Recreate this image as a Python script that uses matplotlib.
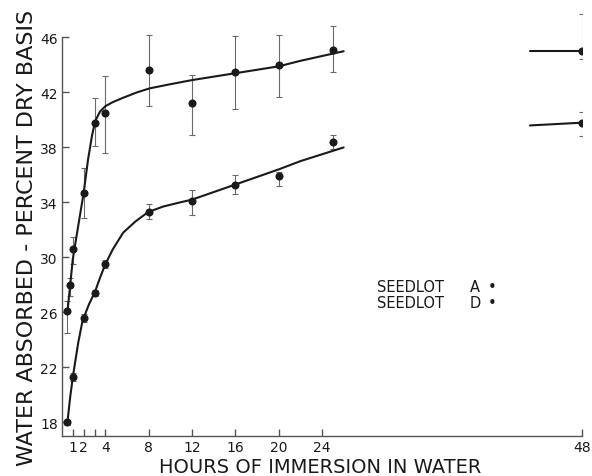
import matplotlib
matplotlib.use("Agg")
import matplotlib.pyplot as plt
import numpy as np

# ---- data ----
hours_a = [0.5, 0.75, 1, 2, 3, 4, 8, 12, 16, 20, 25, 48]
water_a = [26.1, 28.0, 30.6, 34.7, 39.8, 40.5, 43.6, 41.2, 43.5, 44.0, 45.1, 45.0]
err_lo_a = [24.5, 27.2, 29.5, 32.9, 38.1, 37.6, 41.0, 38.9, 40.8, 41.7, 43.5, 44.4]
err_hi_a = [26.8, 28.5, 31.5, 36.5, 41.6, 43.2, 46.2, 43.3, 46.1, 46.2, 46.8, 47.7]

hours_d = [0.5, 1, 2, 3, 4, 8, 12, 16, 20, 25, 48]
water_d = [18.0, 21.3, 25.6, 27.4, 29.5, 33.3, 34.1, 35.3, 35.9, 38.4, 39.8]
err_lo_d = [17.8, 21.0, 25.3, 27.2, 29.2, 32.8, 33.1, 34.6, 35.2, 37.9, 38.8]
err_hi_d = [18.2, 21.6, 25.9, 27.6, 29.8, 33.9, 34.9, 36.0, 36.2, 38.9, 40.6]

# fitted curves
curve_h_a = [0.5, 1.0, 1.5, 2.0, 2.4, 2.78, 3.06, 3.5, 4.0, 4.7, 5.6, 6.9, 8.1,
             10, 12, 16, 20, 22, 24, 26]
curve_v_a = [26.0, 29.9, 32.3, 34.7, 37.1, 38.9, 39.9, 40.6, 41.0, 41.3, 41.6, 42.0, 42.3,
             42.6, 42.9, 43.4, 43.9, 44.3, 44.65, 45.0]
curve_h_d = [0.5, 0.75, 1.0, 1.5, 1.9, 2.5, 3.05, 3.5, 4.0, 4.7, 5.65, 6.76, 7.96,
             9.35, 10.9, 12, 16, 20, 22, 24, 26]
curve_v_d = [18.0, 19.8, 21.3, 23.8, 25.4, 26.6, 27.5, 28.5, 29.5, 30.6, 31.8, 32.6, 33.3,
             33.7, 34.0, 34.2, 35.3, 36.4, 37.0, 37.5, 38.0]
tail_h = [43.2, 48]
tail_v_a = [45.0, 45.0]
tail_v_d = [39.6, 39.8]

xticks = [1, 2, 3, 4, 8, 12, 16, 20, 24, 48]
xticklabels = ["1", "2", "", "4", "8", "12", "16", "20", "24", "48"]
yticks = [18, 22, 26, 30, 34, 38, 42, 46]

legend_names = ["SEEDLOT", "SEEDLOT"]
legend_letters = ["A", "D"]

# ---- figure ----
W, H = 592, 477
fig = plt.figure(figsize=(W / 100, H / 100), dpi=100)
ax = fig.add_axes([62 / W, (H - 437) / H, (582 - 62) / W, (437 - 11) / H])

ink = "#1a1a1a"
errc = "#6a6a6a"

for hs, vs, lo, hi in [(hours_a, water_a, err_lo_a, err_hi_a),
                       (hours_d, water_d, err_lo_d, err_hi_d)]:
    vs = np.array(vs)
    yerr = [vs - np.array(lo), np.array(hi) - vs]
    ax.errorbar(hs, vs, yerr=yerr, fmt="none", ecolor=errc, elinewidth=0.8,
                capsize=2, capthick=0.8, zorder=2)
    ax.plot(hs, vs, "o", color=ink, markersize=4.8, zorder=4)

for ch, cv in [(curve_h_a, curve_v_a), (curve_h_d, curve_v_d),
               (tail_h, tail_v_a), (tail_h, tail_v_d)]:
    ax.plot(ch, cv, color=ink, lw=1.5, zorder=3, solid_capstyle="round",
            solid_joinstyle="round")

ax.set_xlim(0, 48)
ax.set_ylim(17, 48)
for s in ["top", "right"]:
    ax.spines[s].set_visible(False)
ax.spines["left"].set_bounds(17, 46)
ax.spines["bottom"].set_bounds(0, 48)
for s in ["left", "bottom"]:
    ax.spines[s].set_color("#555555")
    ax.spines[s].set_linewidth(1.0)

ax.set_xticks(xticks)
ax.set_xticklabels(xticklabels)
ax.set_yticks(yticks)
ax.tick_params(axis="both", direction="in", length=5, width=1.0, color="#555555",
               labelsize=10, labelcolor=ink)
ax.tick_params(axis="x", pad=3)
ax.tick_params(axis="y", pad=3)

fig.text(27 / W, 1 - 238 / H, "WATER ABSORBED - PERCENT DRY BASIS", rotation=90,
         ha="center", va="center", fontsize=16, color=ink)
fig.text(320 / W, 1 - 468 / H, "HOURS OF IMMERSION IN WATER",
         ha="center", va="center", fontsize=14, color=ink)

for i, (nm, lt) in enumerate(zip(legend_names, legend_letters)):
    yy = 1 - (287 + 17 * i) / H
    fig.text(377 / W, yy, nm, ha="left", va="center", fontsize=10.5, color=ink)
    fig.text(470 / W, yy, lt, ha="left", va="center", fontsize=10.5, color=ink)
    fig.text(492 / W, yy, "\u2022", ha="center", va="center", fontsize=10.5, color=ink)

fig.savefig("out.png", dpi=100)
